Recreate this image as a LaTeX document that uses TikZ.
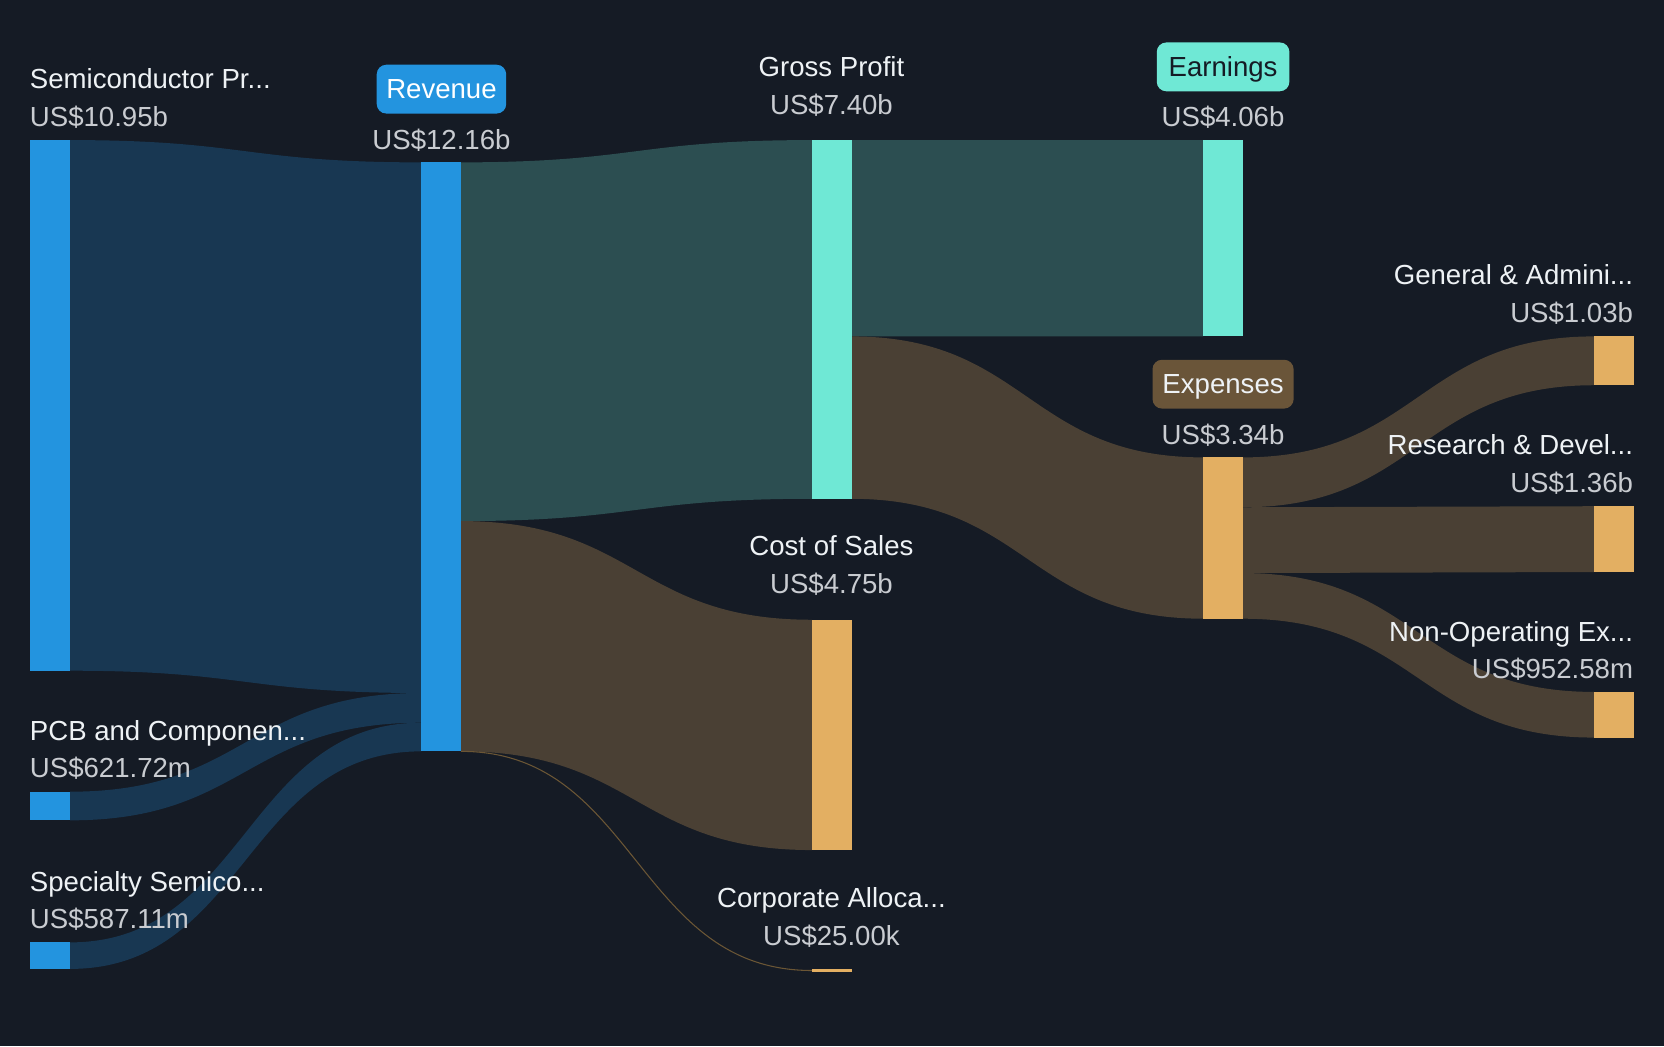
\documentclass[tikz,border=0pt]{standalone}
\usepackage{fontspec}
\setmainfont{Liberation Sans}
\definecolor{cBg}{HTML}{151B25}
\definecolor{cBlue}{HTML}{2394DF}
\definecolor{cBlueLink}{HTML}{183752}
\definecolor{cTeal}{HTML}{6FE8D5}
\definecolor{cTealLink}{HTML}{2C4E51}
\definecolor{cBrownLink}{HTML}{4A4034}
\definecolor{cOrange}{HTML}{E3AF62}
\definecolor{cExpBox}{HTML}{6A5539}
\definecolor{cName}{HTML}{EEF2F5}
\definecolor{cValue}{HTML}{C9CCD1}
\definecolor{cThin}{HTML}{6B5635}
\newcommand\ribbon[7]{\fill[#7] (#1,#2) .. controls ({(#1+#4)/2},#2) and ({(#1+#4)/2},#5) .. (#4,#5) -- (#4,#6) .. controls ({(#1+#4)/2},#6) and ({(#1+#4)/2},#3) .. (#1,#3) -- cycle;}
\tikzset{
  bar/.style={inner sep=0pt, outer sep=0pt, minimum width=37.5pt, anchor=north west, draw=none},
  nm/.style={text=cName, font=\fontsize{26}{30}\selectfont, inner sep=0pt},
  val/.style={text=cValue, font=\fontsize{26}{30}\selectfont, inner sep=0pt},
  tag/.style={rounded corners=9pt, inner sep=0pt, minimum height=46pt, text height=18.5pt, text depth=0pt, font=\fontsize{26}{30}\selectfont}
}
\begin{document}
\begin{tikzpicture}[x=1pt, y=-1pt]
\useasboundingbox (0,0) rectangle (1568,986);
\fill[cBg] (0,0) rectangle (1568,986);
% links
\ribbon{66}{132}{632}{397}{153}{653}{cBlueLink}
\ribbon{66}{746}{773}{397}{653}{681}{cBlueLink}
\ribbon{66}{888}{913}{397}{681}{708}{cBlueLink}
\ribbon{434}{153}{491}{765}{132}{470}{cTealLink}
\ribbon{434}{491}{708}{765}{584}{801}{cBrownLink}
\ribbon{802}{132}{317}{1134}{132}{317}{cTealLink}
\ribbon{802}{317}{470}{1134}{431}{583}{cBrownLink}
\ribbon{1171}{431}{478}{1502}{317}{363}{cBrownLink}
\ribbon{1171}{478}{540}{1502}{477}{539}{cBrownLink}
\ribbon{1171}{540}{583}{1502}{652}{695}{cBrownLink}
% bars
\node[bar, fill=cBlue, minimum height=500pt] (semi) at (28,132) {};
\node[bar, fill=cBlue, minimum height=27pt] (pcb) at (28,746) {};
\node[bar, fill=cBlue, minimum height=25pt] (spec) at (28,888) {};
\node[bar, fill=cBlue, minimum height=555pt] (rev) at (397,153) {};
\node[bar, fill=cTeal, minimum height=338pt] (gp) at (765,132) {};
\node[bar, fill=cOrange, minimum height=217pt] (cos) at (765,584) {};
\node[bar, fill=cOrange, minimum height=2pt] (corp) at (765,913.5) {};
\node[bar, fill=cTeal, minimum height=185pt] (earn) at (1134,132) {};
\node[bar, fill=cOrange, minimum height=152pt] (exp) at (1134,431) {};
\node[bar, fill=cOrange, minimum height=46pt] (ga) at (1502,317) {};
\node[bar, fill=cOrange, minimum height=62pt] (rd) at (1502,477) {};
\node[bar, fill=cOrange, minimum height=43pt] (nonop) at (1502,652) {};
% thin link
\draw[cThin, line width=1pt] (rev.south east) .. controls (599.5,708) and (599.5,914.5) .. (corp.west);
% labels
\node[nm, anchor=base west] (semiN) at (28,83.5) {Semiconductor Pr...};
\node[val, anchor=base west] (semiV) at (28,119.5) {US\$10.95b};
\node[tag, fill=cBlue, text=white, minimum width=122pt] (revT) at (416,84) {Revenue};
\node[val, anchor=base] (revV) at (416,140.5) {US\$12.16b};
\node[nm, anchor=base] (gpN) at (783.5,72.5) {Gross Profit};
\node[val, anchor=base] (gpV) at (783.5,107.5) {US\$7.40b};
\node[tag, fill=cTeal, text=cBg, minimum width=125pt] (earnT) at (1152.5,63) {Earnings};
\node[val, anchor=base] (earnV) at (1152.5,119.5) {US\$4.06b};
\node[nm, anchor=base east] (gaN) at (1539,268.5) {General \& Admini...};
\node[val, anchor=base east] (gaV) at (1539,303.5) {US\$1.03b};
\node[tag, fill=cExpBox, text=cName, minimum width=133pt] (expT) at (1152.5,362) {Expenses};
\node[val, anchor=base] (expV) at (1152.5,418.5) {US\$3.34b};
\node[nm, anchor=base east] (rdN) at (1539,428.5) {Research \& Devel...};
\node[val, anchor=base east] (rdV) at (1539,464.5) {US\$1.36b};
\node[nm, anchor=base] (cosN) at (783.5,523.5) {Cost of Sales};
\node[val, anchor=base] (cosV) at (783.5,559.5) {US\$4.75b};
\node[nm, anchor=base east] (nonopN) at (1539,604.5) {Non-Operating Ex...};
\node[val, anchor=base east] (nonopV) at (1539,639.5) {US\$952.58m};
\node[nm, anchor=base west] (pcbN) at (28,697.5) {PCB and Componen...};
\node[val, anchor=base west] (pcbV) at (28,732.5) {US\$621.72m};
\node[nm, anchor=base west] (specN) at (28,840.5) {Specialty Semico...};
\node[val, anchor=base west] (specV) at (28,874.5) {US\$587.11m};
\node[nm, anchor=base] (corpN) at (783.5,855.5) {Corporate Alloca...};
\node[val, anchor=base] (corpV) at (783.5,890.5) {US\$25.00k};
\end{tikzpicture}
\end{document}
